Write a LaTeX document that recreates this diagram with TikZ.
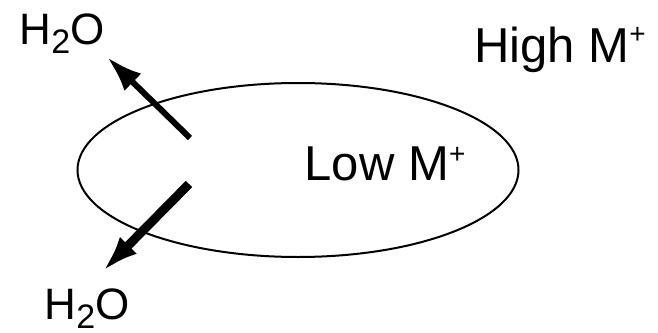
\documentclass[tikz,border=0pt]{standalone}
\usepackage{fontspec}
\setmainfont{Liberation Sans}
\usetikzlibrary{arrows.meta,shapes.geometric}
\newcommand{\bigtext}{\fontsize{49}{49}\selectfont}
\newcommand{\midtext}{\fontsize{44}{44}\selectfont}
\newcommand{\ionplus}[1]{\raisebox{#1}{\fontsize{28}{28}\selectfont+}}
\newcommand{\watersub}{\raisebox{-9pt}{\fontsize{34}{34}\selectfont 2}}
\begin{document}
\begin{tikzpicture}[x=1pt,y=-1pt,
  label/.style={inner sep=0pt,anchor=base west,text=black},
  cellwall/.style={draw=black,line width=2pt,ellipse,inner sep=0pt,
    minimum width=441pt,minimum height=174pt},
  flux/.style={draw=black,line width=#1,-{Latex[length=36pt,width=24pt]}}]
\useasboundingbox (0,0) rectangle (658,332);
\node[cellwall] (cell) at (298,170) {};
\node[label] (high) at (474,62) {\bigtext High M\ionplus{19pt}};
\node[label] (low) at (304.5,180) {\bigtext Low M\ionplus{17pt}};
\node[label] (wtop) at (19.5,44) {\midtext H\watersub O};
\node[label] (wbot) at (44.5,319) {\midtext H\watersub O};
\coordinate (t1) at (190,138);
\coordinate (h1) at (107,57);
\coordinate (t2) at (189,184);
\coordinate (h2) at (103,271);
\draw[flux=6pt] (t1) -- (h1);
\draw[flux=9pt] (t2) -- (h2);
\end{tikzpicture}
\end{document}
